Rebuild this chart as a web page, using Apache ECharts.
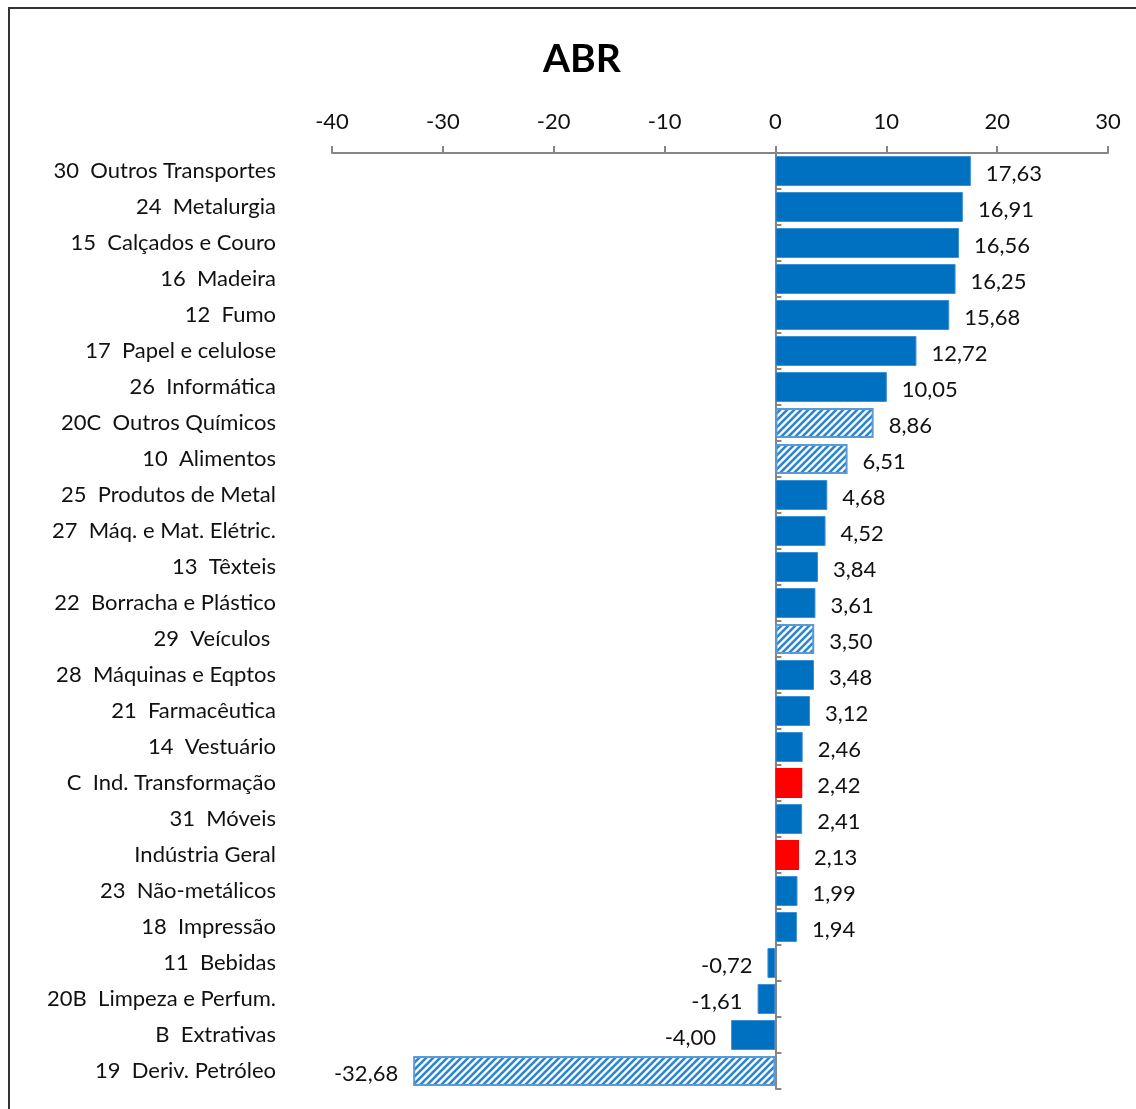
<!DOCTYPE html>
<html>
<head>
<meta charset="utf-8">
<script src="https://cdn.jsdelivr.net/npm/echarts@6/dist/echarts.min.js"></script>
<style>
  html, body { margin: 0; padding: 0; background: #fff; overflow: hidden; }
  #main { width: 1136px; height: 1109px; }
  .frame {
    position: absolute; left: 8px; top: 7px; width: 1300px; height: 1300px;
    border-left: 2px solid #333; border-top: 2px solid #333; pointer-events: none;
  }
</style>
</head>
<body>
<div id="main"></div>
<div class="frame"></div>
<script>
var categories = [
  "30  Outros Transportes", "24  Metalurgia", "15  Calçados e Couro", "16  Madeira",
  "12  Fumo", "17  Papel e celulose", "26  Informática", "20C  Outros Químicos",
  "10  Alimentos", "25  Produtos de Metal", "27  Máq. e Mat. Elétric.", "13  Têxteis",
  "22  Borracha e Plástico", "29  Veículos ", "28  Máquinas e Eqptos", "21  Farmacêutica",
  "14  Vestuário", "C  Ind. Transformação", "31  Móveis", "Indústria Geral",
  "23  Não-metálicos", "18  Impressão", "11  Bebidas", "20B  Limpeza e Perfum.",
  "B  Extrativas", "19  Deriv. Petróleo"
];
var values = [
  17.63, 16.91, 16.56, 16.25, 15.68, 12.72, 10.05, 8.86, 6.51, 4.68, 4.52, 3.84, 3.61,
  3.50, 3.48, 3.12, 2.46, 2.42, 2.41, 2.13, 1.99, 1.94, -0.72, -1.61, -4.00, -32.68
];
// s = solid blue, h = hatched, r = red
var styles = [
  "s", "s", "s", "s", "s", "s", "s", "h", "h", "s", "s", "s", "s",
  "h", "s", "s", "s", "r", "s", "r", "s", "s", "s", "s", "s", "h"
];
var xTicks = { min: -40, max: 30, interval: 10 };

var FONT = "Lato";

// diagonal hatch pattern
var pat = document.createElement("canvas");
pat.width = 7; pat.height = 7;
var g = pat.getContext("2d");
g.fillStyle = "#ffffff";
g.fillRect(0, 0, 7, 7);
g.strokeStyle = "#2a86d2";
g.lineWidth = 2.6;
[[-3.5, 3.5, 3.5, -3.5], [0, 7, 7, 0], [3.5, 10.5, 10.5, 3.5]].forEach(function (l) {
  g.beginPath(); g.moveTo(l[0], l[1]); g.lineTo(l[2], l[3]); g.stroke();
});

var data = values.map(function (v, i) {
  var st = styles[i];
  var item = {
    value: v,
    label: { position: v < 0 ? "left" : "right" },
    itemStyle: {}
  };
  if (st === "r") {
    item.itemStyle.color = "#ff0000";
  } else if (st === "h") {
    item.itemStyle.color = { image: pat, repeat: "repeat" };
    item.itemStyle.borderColor = "#5b9bd5";
    item.itemStyle.borderWidth = 2;
  } else {
    item.itemStyle.color = "#0070c0";
    item.itemStyle.borderColor = "#3d8fd6";
    item.itemStyle.borderWidth = 1;
  }
  return item;
});

var chart = echarts.init(document.getElementById("main"));
chart.setOption({
  animation: false,
  title: {
    text: "ABR",
    left: 538,
    top: 35,
    textStyle: { fontFamily: FONT, fontSize: 39, fontWeight: "bold", color: "#000" }
  },
  grid: { left: 332, right: 28, top: 153, height: 936 },
  xAxis: {
    type: "value",
    position: "top",
    min: xTicks.min,
    max: xTicks.max,
    interval: xTicks.interval,
    axisLine: { show: true, lineStyle: { color: "#868686", width: 2 } },
    axisTick: { show: true, length: 7, lineStyle: { color: "#868686", width: 2 } },
    axisLabel: { margin: 20, fontFamily: FONT, fontSize: 22, color: "#111" },
    splitLine: { show: false }
  },
  yAxis: [
    {
      type: "category",
      data: categories,
      inverse: true,
      axisLine: { show: false, onZero: false },
      axisTick: { show: false },
      axisLabel: { margin: 56, fontFamily: FONT, fontSize: 22, color: "#111", padding: [8, 0, 0, 0] }
    },
    {
      type: "category",
      data: categories,
      inverse: true,
      axisLine: { show: true, onZero: true, lineStyle: { color: "#868686", width: 2 } },
      axisTick: { show: true, length: 6, lineStyle: { color: "#868686", width: 2 } },
      axisLabel: { show: false }
    }
  ],
  series: [{
    type: "bar",
    yAxisIndex: 0,
    data: data,
    barWidth: 30,
    label: {
      show: true,
      distance: 15,
      fontFamily: FONT,
      fontSize: 22,
      color: "#111",
      offset: [0, 3],
      formatter: function (p) { return p.value.toFixed(2).replace(".", ","); }
    }
  }]
});
</script>
</body>
</html>
